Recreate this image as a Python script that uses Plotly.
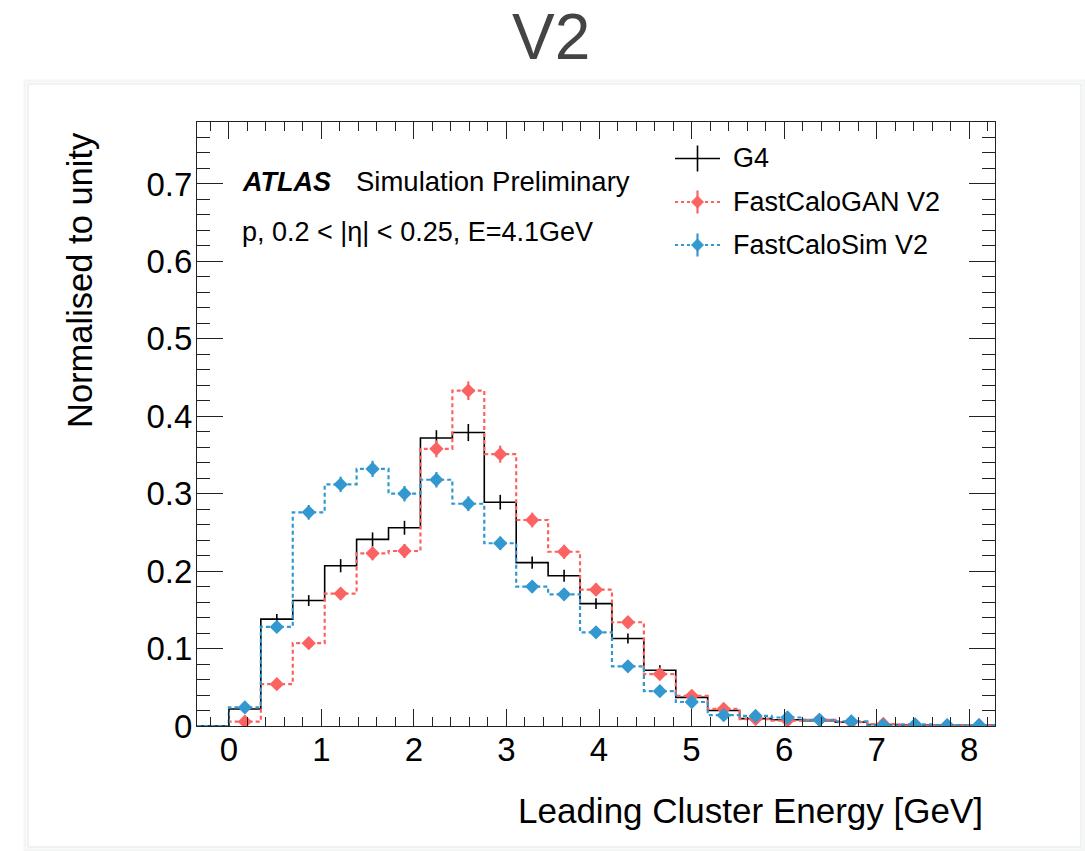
import numpy as np
import plotly.graph_objects as go

# Histogram binning (leading cluster energy, GeV)
E_MIN, E_MAX, N_BINS = -0.345, 8.28, 25

# Normalised bin contents and their statistical uncertainties
g4 = [0.0, 0.022, 0.138, 0.162, 0.207, 0.241, 0.256, 0.372, 0.379, 0.289,
      0.211, 0.194, 0.158, 0.113, 0.072, 0.037, 0.020, 0.0095, 0.008, 0.007,
      0.005, 0.002, 0.0015, 0.001, 0.001]
g4_err = [0.0, 0.004, 0.0065, 0.007, 0.0085, 0.009, 0.009, 0.010, 0.011, 0.0095,
          0.008, 0.0078, 0.007, 0.0065, 0.0065, 0.005, 0.0045, 0.003, 0.003, 0.0025,
          0.002, 0.0015, 0.0012, 0.001, 0.001]

gan = [0.0, 0.0056, 0.054, 0.107, 0.171, 0.223, 0.226, 0.358, 0.433, 0.351,
       0.266, 0.225, 0.176, 0.134, 0.067, 0.039, 0.022, 0.009, 0.007, 0.008,
       0.005, 0.0026, 0.0008, 0.0005, 0.001]
gan_err = [0.0, 0.003, 0.005, 0.0065, 0.0075, 0.009, 0.009, 0.011, 0.012, 0.011,
           0.0095, 0.009, 0.008, 0.007, 0.0055, 0.004, 0.003, 0.002, 0.002, 0.002,
           0.0015, 0.001, 0.001, 0.001, 0.001]

fcs = [0.0, 0.024, 0.128, 0.276, 0.312, 0.332, 0.300, 0.318, 0.287, 0.236,
       0.180, 0.170, 0.121, 0.077, 0.045, 0.031, 0.014, 0.013, 0.011, 0.008,
       0.006, 0.001, 0.002, 0.001, 0.001]
fcs_err = [0.0, 0.003, 0.0065, 0.0095, 0.010, 0.0105, 0.010, 0.010, 0.0095, 0.0085,
           0.0075, 0.0072, 0.006, 0.005, 0.004, 0.0035, 0.0025, 0.0025, 0.002, 0.002,
           0.0015, 0.001, 0.001, 0.001, 0.001]

edges = np.linspace(E_MIN, E_MAX, N_BINS + 1)
centers = 0.5 * (edges[:-1] + edges[1:])

# Page geometry
W, H = 1085, 851
ML, MR, MT, MB = 197, 90, 122, 125
PW, PH = W - ML - MR, H - MT - MB
FONT = "Liberation Sans, Arial, Helvetica, sans-serif"
RED = "#fb6262"
BLUE = "#3398cf"
AX = "#222222"


def px(x):
    return (x - ML) / PW


def py(y):
    return (H - MB - y) / PH


fig = go.Figure()


def add_hist(vals, errs, color, dash, width, marker):
    fig.add_trace(go.Scatter(
        x=edges, y=list(vals) + [vals[-1]], mode="lines", line_shape="hv",
        line=dict(color=color, width=width, dash=dash), hoverinfo="skip",
        showlegend=False))
    # empty bins get no point / error bar
    pts = [v if v > 0 else None for v in vals]
    fig.add_trace(go.Scatter(
        x=centers, y=pts, mode="markers",
        marker=marker,
        error_y=dict(type="data", array=errs, color=color, thickness=width,
                     width=0),
        showlegend=False))


add_hist(g4, g4_err, "#000000", "solid", 1.6,
         dict(size=1, color="rgba(0,0,0,0)"))
add_hist(gan, gan_err, RED, "4px,3px", 2.2,
         dict(symbol="diamond", size=11, color=RED))
add_hist(fcs, fcs_err, BLUE, "4px,3px", 2.2,
         dict(symbol="diamond", size=11, color=BLUE))

shapes = []
annotations = []

# Card outline around the plot
shapes.append(dict(type="rect", xref="paper", yref="paper", layer="below",
                   x0=px(25), x1=px(1084), y0=py(850), y1=py(81),
                   line=dict(color="#f4f6f5", width=3), fillcolor="rgba(0,0,0,0)"))
shapes.append(dict(type="rect", xref="paper", yref="paper", layer="below",
                   x0=px(28), x1=px(1081), y0=py(847), y1=py(84),
                   line=dict(color="#e2e5e4", width=1), fillcolor="white"))

# Legend
legend_rows = [
    ("G4", "#000000", "solid", 1.6, 158.5, 13, False),
    ("FastCaloGAN V2", RED, "dot", 2.2, 202, 11.5, True),
    ("FastCaloSim V2", BLUE, "dot", 2.2, 245, 11.5, True),
]
LX0, LX1, LXC, LTX = 675, 720, 697.5, 731
for label, color, dash, width, yrow, half, has_marker in legend_rows:
    shapes.append(dict(type="line", xref="paper", yref="paper",
                       x0=px(LX0), x1=px(LX1), y0=py(yrow), y1=py(yrow),
                       line=dict(color=color, width=width, dash=dash)))
    shapes.append(dict(type="line", xref="paper", yref="paper",
                       x0=px(LXC), x1=px(LXC), y0=py(yrow - half), y1=py(yrow + half),
                       line=dict(color=color, width=width)))
    if has_marker:
        r = 6
        path = "M {} {} L {} {} L {} {} L {} {} Z".format(
            px(LXC), py(yrow - r), px(LXC + r), py(yrow),
            px(LXC), py(yrow + r), px(LXC - r), py(yrow))
        shapes.append(dict(type="path", xref="paper", yref="paper", path=path,
                           fillcolor=color, line=dict(color=color, width=1)))
    annotations.append(dict(xref="paper", yref="paper", x=px(LTX), y=py(yrow),
                            xanchor="left", yanchor="middle", showarrow=False,
                            text=label, font=dict(family=FONT, size=27, color="black")))

# Labels inside the frame
annotations += [
    dict(xref="paper", yref="paper", x=px(240), y=py(182), xanchor="left",
         yanchor="middle", showarrow=False, text="<b><i>ATLAS</i></b>",
         font=dict(family=FONT, size=27, color="black")),
    dict(xref="paper", yref="paper", x=px(354), y=py(182), xanchor="left",
         yanchor="middle", showarrow=False, text="Simulation Preliminary",
         font=dict(family=FONT, size=27.5, color="black")),
    dict(xref="paper", yref="paper", x=px(240), y=py(232), xanchor="left",
         yanchor="middle", showarrow=False,
         text="p, 0.2 &lt; |η| &lt; 0.25, E=4.1GeV",
         font=dict(family=FONT, size=27, color="black")),
    # axis titles
    dict(xref="paper", yref="paper", x=px(985), y=py(810), xanchor="right",
         yanchor="middle", showarrow=False, text="Leading Cluster Energy [GeV]",
         font=dict(family=FONT, size=35, color="black")),
    dict(xref="paper", yref="paper", x=px(80), y=py(280), xanchor="center",
         yanchor="middle", showarrow=False, text="Normalised to unity",
         textangle=-90, font=dict(family=FONT, size=34.5, color="black")),
    # page title
    dict(xref="paper", yref="paper", x=px(551), y=py(37), xanchor="center",
         yanchor="middle", showarrow=False, text="V2",
         font=dict(family=FONT, size=64, color="#444444")),
]

fig.update_layout(
    width=W, height=H,
    margin=dict(l=ML, r=MR, t=MT, b=MB, pad=0),
    paper_bgcolor="white", plot_bgcolor="rgba(0,0,0,0)",
    showlegend=False,
    shapes=shapes, annotations=annotations,
    xaxis=dict(range=[E_MIN, E_MAX], showgrid=False, zeroline=False,
               showline=True, linecolor=AX, linewidth=1.2, mirror="ticks",
               ticks="inside", ticklen=17, tickwidth=1.2, tickcolor=AX,
               tick0=0, dtick=1, ticklabelstandoff=-6,
               tickfont=dict(family=FONT, size=33, color="black"),
               minor=dict(ticks="inside", dtick=0.2, tick0=0, ticklen=9,
                          tickwidth=1, tickcolor=AX, showgrid=False)),
    yaxis=dict(range=[0, 0.78], showgrid=False, zeroline=False,
               showline=True, linecolor=AX, linewidth=1.2, mirror="ticks",
               ticks="inside", ticklen=26, tickwidth=1.2, tickcolor=AX,
               tick0=0, dtick=0.1, ticklabelstandoff=-3,
               tickfont=dict(family=FONT, size=33, color="black"),
               minor=dict(ticks="inside", dtick=0.02, tick0=0, ticklen=13,
                          tickwidth=1, tickcolor=AX, showgrid=False)),
)

fig.write_html("out.html")
